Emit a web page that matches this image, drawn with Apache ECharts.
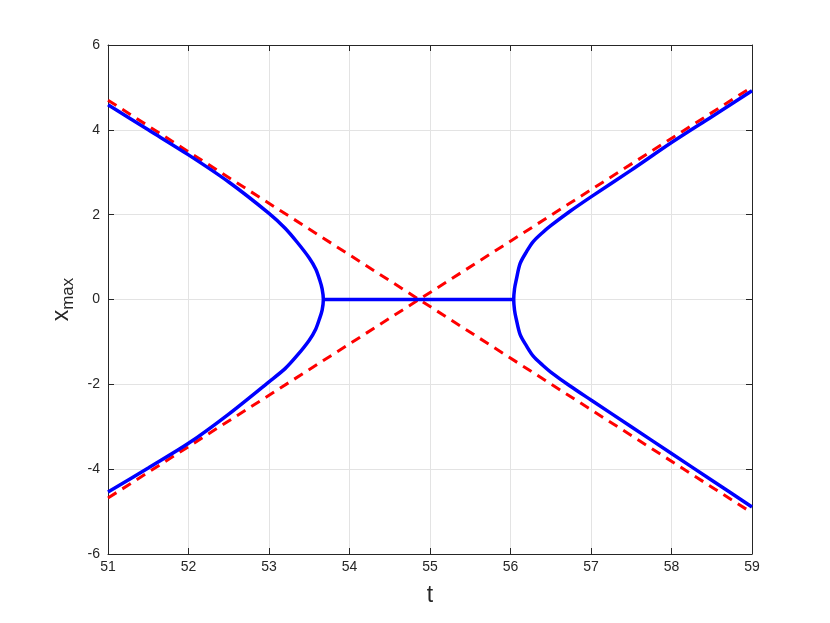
<!DOCTYPE html>
<html>
<head>
<meta charset="utf-8">
<script src="https://cdn.jsdelivr.net/npm/echarts@6/dist/echarts.min.js"></script>
<style>html,body{margin:0;padding:0;background:#fff;}#c{width:830px;height:623px;}</style>
</head>
<body>
<div id="c"></div>
<script>
var xTicks = [51, 52, 53, 54, 55, 56, 57, 58, 59];
var yTicks = [-6, -4, -2, 0, 2, 4, 6];

var leftBranch = [
  [51, 4.59], [51.5, 4.00], [52, 3.41], [52.5, 2.77], [53, 2.03], [53.2, 1.68],
  [53.35, 1.35], [53.5, 0.98], [53.58, 0.72], [53.63, 0.46], [53.66, 0.25], [53.675, 0],
  [53.66, -0.25], [53.63, -0.44], [53.58, -0.70], [53.5, -0.96], [53.35, -1.32],
  [53.2, -1.63], [53, -1.94], [52.5, -2.70], [52, -3.39], [51.5, -3.97], [51, -4.54]
];
var middleSegment = [[53.675, 0], [56.04, 0]];
var rightBranch = [
  [59, 4.92], [58.5, 4.31], [58, 3.70], [57.5, 3.05], [57, 2.42], [56.74, 2.08],
  [56.5, 1.74], [56.4, 1.58], [56.28, 1.36], [56.2, 1.13], [56.12, 0.85], [56.07, 0.45],
  [56.05, 0.25], [56.04, 0], [56.05, -0.25], [56.07, -0.45], [56.12, -0.83],
  [56.2, -1.10], [56.28, -1.33], [56.4, -1.55], [56.5, -1.71], [56.74, -2.04],
  [57, -2.37], [57.5, -3.00], [58, -3.63], [58.5, -4.26], [59, -4.89]
];
var asymptoteDown = [[51, 4.70], [59, -5.03]];
var asymptoteUp = [[51, -4.68], [59, 5.01]];

var chart = echarts.init(document.getElementById('c'), null, {renderer: 'canvas'});
var axisCol = '#262626';
var font = 'Liberation Sans, Arial, sans-serif';
var gridLine = {show: true, lineStyle: {color: '#e3e3e3', width: 1}};
function boxAxis(extra) {
  return Object.assign({
    type: 'value',
    axisLine: {show: true, onZero: false, lineStyle: {color: axisCol, width: 1}},
    axisTick: {show: true, inside: true, length: 6, lineStyle: {color: axisCol}},
    splitLine: {show: false},
    axisLabel: {show: false}
  }, extra);
}
var blue = {color: '#0000ff', width: 3.5};
var red = {color: '#ff0000', width: 3, type: [10, 7]};
var option = {
  animation: false,
  backgroundColor: '#fff',
  grid: {left: 108, right: 78, top: 45, bottom: 69, containLabel: false},
  xAxis: [
    boxAxis({
      min: 51, max: 59, interval: 1, position: 'bottom',
      splitLine: gridLine,
      axisLabel: {show: true, color: axisCol, fontSize: 14, fontFamily: font, margin: 6},
      name: 't', nameLocation: 'middle', nameGap: 30,
      nameTextStyle: {fontSize: 23, color: axisCol, fontFamily: font}
    }),
    boxAxis({min: 51, max: 59, interval: 1, position: 'top'})
  ],
  yAxis: [
    boxAxis({
      min: -6, max: 6, interval: 2, position: 'left',
      splitLine: gridLine,
      axisLabel: {show: true, color: axisCol, fontSize: 14, fontFamily: font, margin: 8},
      name: '{a|x}{b|max}', nameLocation: 'middle', nameGap: 28, nameRotate: 90,
      nameTextStyle: {
        color: axisCol, fontFamily: font,
        rich: {
          a: {fontSize: 23, color: axisCol, fontFamily: font},
          b: {fontSize: 17, color: axisCol, fontFamily: font, padding: [12, 0, 0, 0], verticalAlign: 'bottom'}
        }
      }
    }),
    boxAxis({min: -6, max: 6, interval: 2, position: 'right'})
  ],
  series: [
    {type: 'line', data: asymptoteDown, showSymbol: false, lineStyle: red, z: 2},
    {type: 'line', data: asymptoteUp, showSymbol: false, lineStyle: red, z: 2},
    {type: 'line', data: leftBranch, showSymbol: false, smooth: 0.3, lineStyle: blue, z: 3},
    {type: 'line', data: middleSegment, showSymbol: false, lineStyle: blue, z: 3},
    {type: 'line', data: rightBranch, showSymbol: false, smooth: 0.3, lineStyle: blue, z: 3}
  ]
};
chart.setOption(option);
</script>
</body>
</html>
